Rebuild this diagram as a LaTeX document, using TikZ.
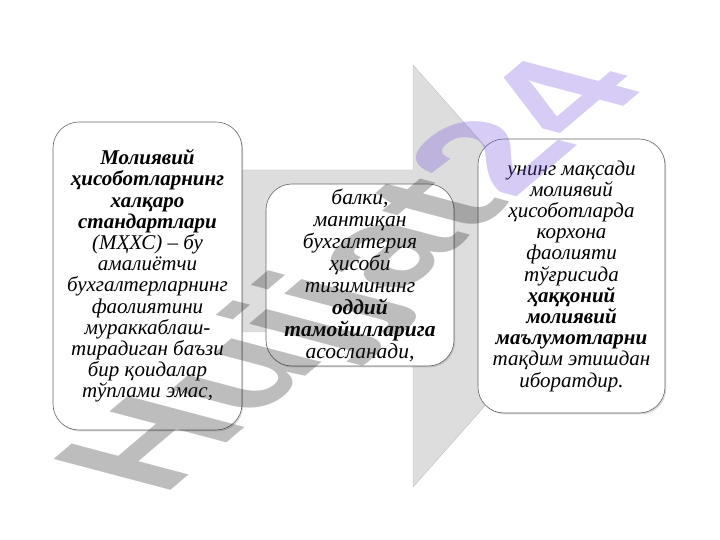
\documentclass[tikz,border=0pt]{standalone}
\usepackage{fontspec}
\setmainfont{Liberation Serif}
\newfontfamily\wmfont{Liberation Sans}
\usetikzlibrary{shadows}
\definecolor{wmviolet}{RGB}{118,85,222}

\begin{document}
\begin{tikzpicture}[x=1pt,y=1pt,
    kasten/.style={draw=gray!80!black, line width=0.6pt, fill=white,
        rounded corners=26pt, align=center, inner sep=0pt,
        font=\fontsize{21}{21.2}\selectfont\itshape,
        drop shadow={shadow xshift=1.2pt, shadow yshift=-1.5pt, opacity=0.3}}]
    \useasboundingbox (0,0) rectangle (720,540);
    \draw[gray!50, fill=gray!27] (160,370) -- (413,370) -- (413,475) -- (600,264)
        -- (413,53) -- (413,208) -- (160,208) -- cycle;

    \node[kasten, minimum width=189pt, minimum height=308pt] (box1) at (147.5,264)
        {\textbf{Молиявий}\\ \textbf{ҳисоботларнинг}\\ \textbf{халқаро}\\
         \textbf{стандартлари}\\ (МҲХС) – бу\\ амалиётчи\\ бухгалтерларнинг\\
         фаолиятини\\ мураккаблаш-\\ тирадиган баъзи\\ бир қоидалар\\ тўплами эмас,};
    \node[kasten, minimum width=188pt, minimum height=182pt,
        font=\fontsize{21.5}{22}\selectfont\itshape] (box2) at (360,265)
        {балки,\\ мантиқан\\ бухгалтерия\\ ҳисоби\\ тизимининг\\
         \textbf{оддий}\\ \textbf{тамойилларига}\\ асосланади,};
    \node[kasten, minimum width=187pt, minimum height=274pt] (box3) at (571.5,264)
        {унинг мақсади\\ молиявий\\ ҳисоботларда\\ корхона\\ фаолияти\\ тўғрисида\\
         \textbf{ҳаққоний}\\ \textbf{молиявий}\\ \textbf{маълумотларни}\\
         тақдим этишдан\\ иборатдир.};

    \node[cm={1.26,1.07,-1.70,0.45,(0,0)}, anchor=base west, inner sep=0pt,
        text opacity=0.3, font=\wmfont\bfseries\fontsize{100}{100}\selectfont]
        (wm) at (162,42) {\textcolor{black!85}{Hujjat}\textcolor{wmviolet}{24}};
\end{tikzpicture}
\end{document}
